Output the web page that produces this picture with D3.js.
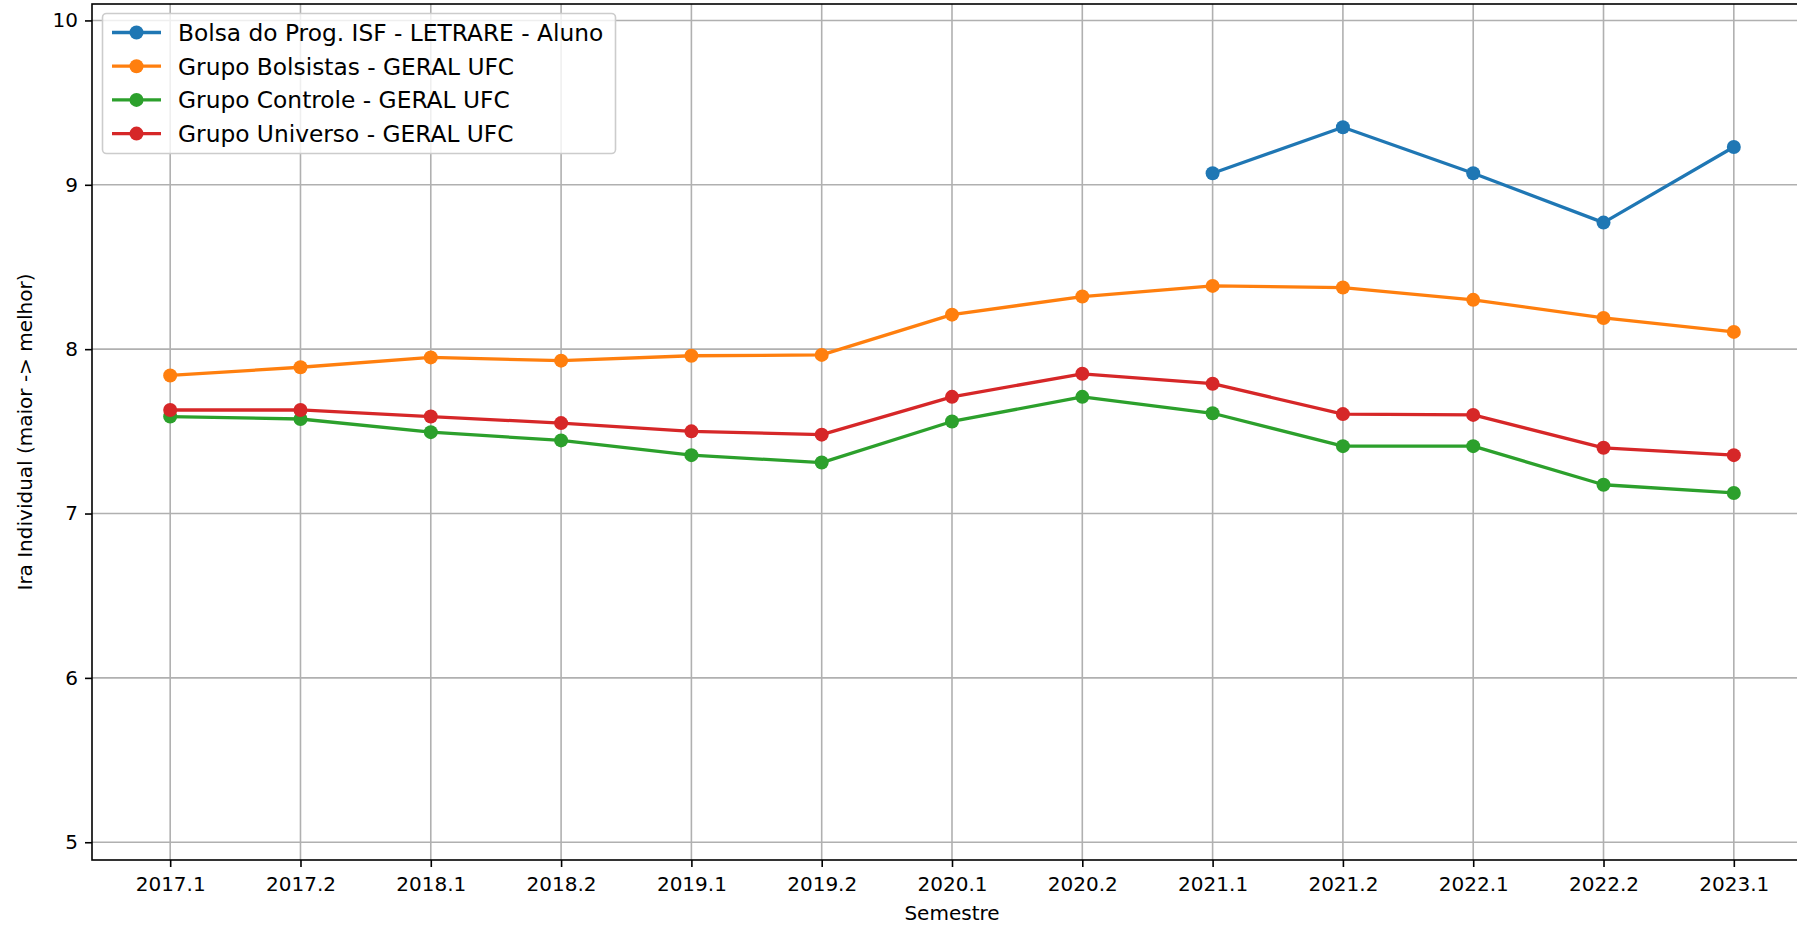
<!DOCTYPE html>
<html>
<head>
<meta charset="utf-8">
<script src="https://cdn.jsdelivr.net/npm/d3@7"></script>
<style>
  body { margin: 0; background: #fff; }
  svg { display: block; font-family: "DejaVu Sans", sans-serif; }
</style>
</head>
<body>
<div class="chart"></div>
<script>
// semesters on the x axis
var semestres = ['2017.1', '2017.2', '2018.1', '2018.2', '2019.1', '2019.2', '2020.1',
                 '2020.2', '2021.1', '2021.2', '2022.1', '2022.2', '2023.1'];

// series values (null = no data for that semester)
var bolsaIsf   = [null, null, null, null, null, null, null, null, 9.07, 9.35, 9.07, 8.77, 9.23];
var bolsistas  = [7.84, 7.89, 7.95, 7.93, 7.96, 7.965, 8.21, 8.32, 8.385, 8.375, 8.30, 8.19, 8.105];
var controle   = [7.59, 7.575, 7.495, 7.445, 7.355, 7.31, 7.56, 7.71, 7.61, 7.41, 7.41, 7.175, 7.125];
var universo   = [7.63, 7.63, 7.59, 7.55, 7.50, 7.48, 7.71, 7.85, 7.79, 7.605, 7.60, 7.40, 7.355];

var seriesNames = ['Bolsa do Prog. ISF - LETRARE - Aluno', 'Grupo Bolsistas - GERAL UFC',
                   'Grupo Controle - GERAL UFC', 'Grupo Universo - GERAL UFC'];
var seriesColors = ['#1f77b4', '#ff7f0e', '#2ca02c', '#d62728'];
var yTicks = [5, 6, 7, 8, 9, 10];

var width = 1797, height = 925;
var plot = {left: 92, right: 1812, top: 4, bottom: 860};

var x = d3.scalePoint()
  .domain(semestres)
  .range([plot.left, plot.right])
  .padding(0.6);

var y = d3.scaleLinear()
  .domain([4.892, 10.10])
  .range([plot.bottom, plot.top]);

var series = [bolsaIsf, bolsistas, controle, universo].map(function(vals, i) {
  return {
    name: seriesNames[i],
    color: seriesColors[i],
    values: vals.map(function(v, j) { return {sem: semestres[j], v: v}; })
                .filter(function(d) { return d.v !== null; })
  };
});

var svg = d3.select('.chart').append('svg')
  .attr('width', width)
  .attr('height', height);

// grid
var grid = svg.append('g').attr('class', 'grid')
  .attr('stroke', '#b0b0b0')
  .attr('stroke-width', 1.6);
grid.selectAll('.vgrid')
  .data(semestres)
  .enter().append('line')
    .attr('x1', d => x(d)).attr('x2', d => x(d))
    .attr('y1', plot.top).attr('y2', plot.bottom);
grid.selectAll('.hgrid')
  .data(yTicks)
  .enter().append('line')
    .attr('x1', plot.left).attr('x2', plot.right)
    .attr('y1', d => y(d)).attr('y2', d => y(d));

// lines + markers
var line = d3.line()
  .x(d => x(d.sem))
  .y(d => y(d.v));

var g = svg.selectAll('.serie')
  .data(series)
  .enter().append('g')
    .attr('class', 'serie');

g.append('path')
  .attr('d', d => line(d.values))
  .style('fill', 'none')
  .style('stroke', d => d.color)
  .style('stroke-width', 3.3)
  .style('stroke-linejoin', 'round');

g.selectAll('circle')
  .data(d => d.values.map(p => ({sem: p.sem, v: p.v, color: d.color})))
  .enter().append('circle')
    .attr('cx', d => x(d.sem))
    .attr('cy', d => y(d.v))
    .attr('r', 7)
    .style('fill', d => d.color);

// axes
var xAxis = d3.axisBottom(x).tickSize(7).tickPadding(10).tickSizeOuter(0);
var yAxis = d3.axisLeft(y).tickValues(yTicks).tickFormat(d3.format('d'))
  .tickSize(7).tickPadding(7).tickSizeOuter(0);

var gX = svg.append('g')
  .attr('transform', `translate(0, ${plot.bottom})`)
  .call(xAxis);
var gY = svg.append('g')
  .attr('transform', `translate(${plot.left}, 0)`)
  .call(yAxis);

[gX, gY].forEach(function(ax) {
  ax.select('.domain').remove();
  ax.selectAll('line').attr('stroke', '#000').attr('stroke-width', 1.6);
  ax.selectAll('text').style('font-size', '20px').attr('fill', '#000')
    .style('font-family', '"DejaVu Sans", sans-serif');
});

// spines
svg.append('rect')
  .attr('x', plot.left)
  .attr('y', plot.top)
  .attr('width', plot.right - plot.left)
  .attr('height', plot.bottom - plot.top)
  .style('fill', 'none')
  .style('stroke', '#000')
  .style('stroke-width', 1.6);

// axis labels
svg.append('text')
  .attr('x', (plot.left + plot.right) / 2)
  .attr('y', 920)
  .attr('text-anchor', 'middle')
  .style('font-size', '20px')
  .text('Semestre');

svg.append('text')
  .attr('transform', `translate(32, ${(plot.top + plot.bottom) / 2}) rotate(-90)`)
  .attr('text-anchor', 'middle')
  .style('font-size', '20px')
  .text('Ira Individual (maior -> melhor)');

// legend
var legend = svg.append('g').attr('class', 'legend');
legend.append('rect')
  .attr('x', 102.5).attr('y', 13.5)
  .attr('width', 513).attr('height', 140)
  .attr('rx', 4)
  .style('fill', 'rgba(255,255,255,0.8)')
  .style('stroke', '#cccccc')
  .style('stroke-width', 1.6);

var items = legend.selectAll('.item')
  .data(series)
  .enter().append('g')
    .attr('class', 'item')
    .attr('transform', (d, i) => `translate(0, ${32.5 + i * 33.7})`);

items.append('line')
  .attr('x1', 112).attr('x2', 161)
  .attr('y1', 0).attr('y2', 0)
  .style('stroke', d => d.color)
  .style('stroke-width', 3.3);
items.append('circle')
  .attr('cx', 136.5).attr('cy', 0).attr('r', 7)
  .style('fill', d => d.color);
items.append('text')
  .attr('x', 178)
  .attr('dy', '0.36em')
  .style('font-size', '23.3px')
  .text(d => d.name);
</script>
</body>
</html>
